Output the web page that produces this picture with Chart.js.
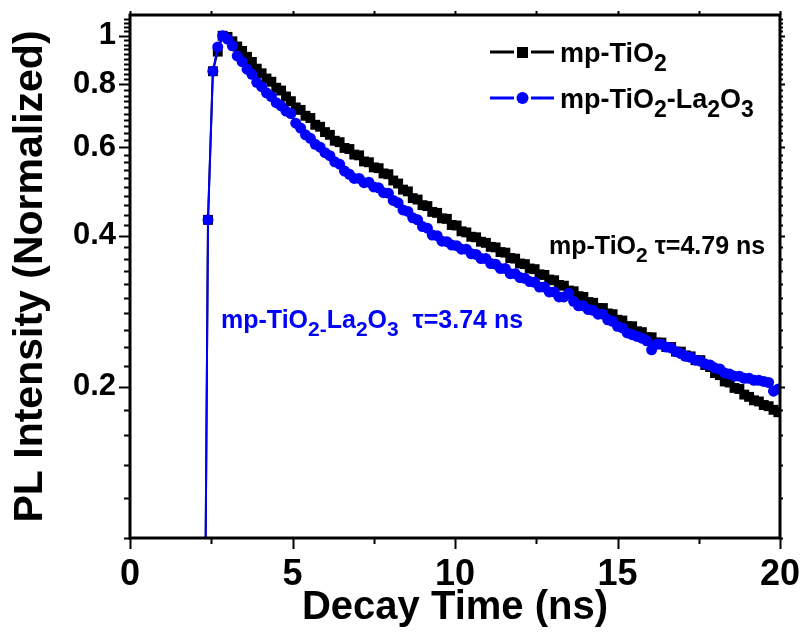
<!DOCTYPE html>
<html><head><meta charset="utf-8">
<script src="https://cdn.jsdelivr.net/npm/chart.js@4.4.0/dist/chart.umd.min.js"></script>
<style>html,body{margin:0;padding:0;background:#fff;}#wrap{width:801px;height:636px;}</style>
</head><body><div id="wrap"><canvas id="c" width="801" height="636"></canvas></div>
<script>
const decayTime = [2.25,2.4,2.55,2.7,2.85,3,3.15,3.3,3.45,3.6,3.75,3.9,4.05,4.2,4.35,4.5,4.65,4.8,4.95,5.1,5.25,5.4,5.55,5.7,5.85,6,6.15,6.3,6.45,6.6,6.75,6.9,7.05,7.2,7.35,7.5,7.65,7.8,7.95,8.1,8.25,8.4,8.55,8.7,8.85,9,9.15,9.3,9.45,9.6,9.75,9.9,10.05,10.2,10.35,10.5,10.65,10.8,10.95,11.1,11.25,11.4,11.55,11.7,11.85,12,12.15,12.3,12.45,12.6,12.75,12.9,13.05,13.2,13.35,13.5,13.65,13.8,13.95,14.1,14.25,14.4,14.55,14.7,14.85,15,15.15,15.3,15.45,15.6,15.75,15.9,16.05,16.2,16.35,16.5,16.65,16.8,16.95,17.1,17.25,17.4,17.55,17.7,17.85,18,18.15,18.3,18.45,18.6,18.75,18.9,19.05,19.2,19.35,19.5,19.65,19.8,19.95];
const mpTiO2 = [0.02,0.43,0.85,0.93,1.0,0.995,0.975,0.952,0.933,0.908,
0.887,0.86,0.842,0.822,0.81,0.788,0.778,0.757,0.741,0.72,
0.712,0.693,0.686,0.665,0.659,0.643,0.635,0.618,0.614,0.598,
0.595,0.58,0.578,0.562,0.56,0.547,0.545,0.532,0.53,0.515,
0.508,0.494,0.49,0.475,0.472,0.46,0.458,0.446,0.444,0.433,
0.432,0.42,0.419,0.408,0.406,0.398,0.397,0.389,0.387,0.38,
0.379,0.371,0.37,0.361,0.36,0.352,0.351,0.344,0.343,0.335,
0.334,0.327,0.326,0.319,0.318,0.311,0.31,0.303,0.302,0.295,
0.294,0.287,0.287,0.28,0.279,0.272,0.271,0.264,0.264,0.258,
0.257,0.251,0.251,0.245,0.245,0.24,0.24,0.235,0.235,0.231,
0.23,0.226,0.226,0.221,0.219,0.213,0.211,0.205,0.204,0.199,
0.198,0.193,0.191,0.188,0.187,0.184,0.183,0.18,0.178];
const mpTiO2La2O3 = [0.02,0.43,0.85,0.95,1.0,0.985,0.955,0.912,0.888,0.858,
0.838,0.808,0.792,0.77,0.757,0.736,0.725,0.708,0.7,0.67,
0.655,0.635,0.625,0.608,0.6,0.585,0.577,0.561,0.555,0.538,
0.53,0.52,0.52,0.51,0.511,0.5,0.498,0.487,0.486,0.47,
0.465,0.45,0.447,0.434,0.43,0.417,0.414,0.401,0.4,0.39,
0.389,0.383,0.382,0.376,0.376,0.368,0.367,0.36,0.36,0.352,
0.351,0.344,0.344,0.336,0.336,0.33,0.329,0.324,0.323,0.316,
0.316,0.309,0.309,0.302,0.302,0.307,0.296,0.29,0.29,0.285,
0.284,0.279,0.279,0.272,0.27,0.264,0.262,0.256,0.254,0.252,
0.25,0.247,0.237,0.243,0.243,0.24,0.239,0.235,0.233,0.23,
0.229,0.226,0.225,0.222,0.221,0.218,0.217,0.213,0.212,0.21,
0.21,0.208,0.208,0.206,0.206,0.205,0.204,0.196,0.198];
const xMajorTicks = [0,5,10,15,20];
const xMinorTicks = [2.5,7.5,12.5,17.5];
const yMajorTicks = [0.2,0.4,0.6,0.8,1];
const yTickLabels = ['0.2','0.4','0.6','0.8','1'];
const yMinorTicks = [0.1,0.12,0.14,0.16,0.18,0.22,0.24,0.26,0.28,0.3,0.32,0.34,0.36,0.38,0.42,0.44,0.46,0.48,0.5,0.52,0.54,0.56,0.58,0.62,0.64,0.66,0.68,0.7,0.72,0.74,0.76,0.78,0.82,0.84,0.86,0.88,0.9,0.92,0.94,0.96,0.98,1.02,1.04,1.06,1.08];

const FONT = "'Liberation Sans', Arial, sans-serif";
const BLUE = '#0000ff';

function rich(ctx, parts, x, y, size, color) {
  let cx = x;
  ctx.textBaseline = 'alphabetic';
  ctx.textAlign = 'left';
  ctx.fillStyle = color;
  for (const p of parts) {
    const fs = p.sub ? Math.round(size * 0.85) : size;
    ctx.font = 'bold ' + fs + 'px ' + FONT;
    ctx.fillText(p.t, cx, y + (p.sub ? size * 0.33 : 0));
    cx += ctx.measureText(p.t).width;
  }
}

const decor = {
  id: 'decor',
  afterDraw(chart) {
    const ctx = chart.ctx, ca = chart.chartArea;
    const xs = chart.scales.x, ys = chart.scales.y;
    ctx.save();
    ctx.strokeStyle = '#000';
    ctx.lineWidth = 2;
    ctx.beginPath();
    for (const v of yMajorTicks) {
      const p = Math.round(ys.getPixelForValue(v)) + 0.5;
      ctx.moveTo(ca.left, p); ctx.lineTo(ca.left - 11, p);
      ctx.moveTo(ca.right, p); ctx.lineTo(ca.right + 5, p);
    }
    for (const v of yMinorTicks) {
      const p = Math.round(ys.getPixelForValue(v)) + 0.5;
      ctx.moveTo(ca.left, p); ctx.lineTo(ca.left - 6, p);
      ctx.moveTo(ca.right, p); ctx.lineTo(ca.right + 3, p);
    }
    for (const v of xMajorTicks) {
      const p = Math.round(xs.getPixelForValue(v)) + 0.5;
      ctx.moveTo(p, ca.bottom); ctx.lineTo(p, ca.bottom + 11);
      ctx.moveTo(p, ca.top); ctx.lineTo(p, ca.top - 4);
    }
    for (const v of xMinorTicks) {
      const p = Math.round(xs.getPixelForValue(v)) + 0.5;
      ctx.moveTo(p, ca.bottom); ctx.lineTo(p, ca.bottom + 6);
      ctx.moveTo(p, ca.top); ctx.lineTo(p, ca.top - 4);
    }
    ctx.stroke();
    ctx.lineWidth = 3;
    ctx.strokeRect(ca.left, ca.top, ca.right - ca.left, ca.bottom - ca.top);

    // legend
    ctx.lineWidth = 3;
    ctx.strokeStyle = '#000';
    ctx.beginPath();
    ctx.moveTo(490, 52); ctx.lineTo(514, 52);
    ctx.moveTo(531, 52); ctx.lineTo(554, 52);
    ctx.stroke();
    ctx.fillStyle = '#000';
    ctx.fillRect(517, 47, 11, 11);
    ctx.strokeStyle = BLUE;
    ctx.beginPath();
    ctx.moveTo(490, 98); ctx.lineTo(514, 98);
    ctx.moveTo(531, 98); ctx.lineTo(554, 98);
    ctx.stroke();
    ctx.fillStyle = BLUE;
    ctx.beginPath(); ctx.arc(522.5, 98, 6, 0, Math.PI * 2); ctx.fill();
    rich(ctx, [{t:'mp-TiO'},{t:'2',sub:true}], 560, 62, 27, '#000');
    rich(ctx, [{t:'mp-TiO'},{t:'2',sub:true},{t:'-La'},{t:'2',sub:true},{t:'O'},{t:'3',sub:true}], 560, 108, 27, '#000');

    // annotations
    rich(ctx, [{t:'mp-TiO'},{t:'2',sub:true},{t:' \u03c4=4.79 ns'}], 549, 254, 25, '#000');
    rich(ctx, [{t:'mp-TiO'},{t:'2',sub:true},{t:'-',sub:true},{t:'La'},{t:'2',sub:true},{t:'O'},{t:'3',sub:true},{t:'  \u03c4=3.74 ns'}], 221, 328, 25, BLUE);
    ctx.restore();
  }
};

new Chart(document.getElementById('c'), {
  type: 'line',
  data: {
    datasets: [
      {
        label: 'mp-TiO2-La2O3',
        data: decayTime.map((t, i) => ({x: t, y: mpTiO2La2O3[i]})),
        borderColor: BLUE, backgroundColor: BLUE,
        pointBackgroundColor: BLUE, pointBorderColor: BLUE,
        pointStyle: 'circle', pointRadius: 5.5, pointBorderWidth: 0,
        borderWidth: 2, tension: 0, order: 0
      },
      {
        label: 'mp-TiO2',
        data: decayTime.map((t, i) => ({x: t, y: mpTiO2[i]})),
        borderColor: '#000', backgroundColor: '#000',
        pointBackgroundColor: '#000', pointBorderColor: '#000',
        pointStyle: 'rect', pointRadius: 7, pointBorderWidth: 0,
        borderWidth: 2, tension: 0, order: 1
      }
    ]
  },
  options: {
    responsive: false, animation: false, devicePixelRatio: 1,
    layout: {padding: {left: 0, right: 21, top: 15, bottom: 0}},
    plugins: {legend: {display: false}, tooltip: {enabled: false}},
    scales: {
      x: {
        type: 'linear', position: 'bottom', min: 0, max: 20,
        afterFit: s => { s.height = 98; s.paddingLeft = 0; s.paddingRight = 0; },
        afterBuildTicks: s => { s.ticks = xMajorTicks.map(v => ({value: v})); },
        grid: {display: false, drawTicks: false},
        border: {display: false},
        ticks: {color: '#000', font: {family: FONT, weight: 'bold', size: 36}, padding: 15, maxRotation: 0, autoSkip: false},
        title: {display: true, text: 'Decay Time (ns)', color: '#000', font: {family: FONT, weight: 'bold', size: 40}, padding: {top: 0, bottom: 4}}
      },
      y: {
        type: 'logarithmic', position: 'left', min: 0.1, max: 1.1,
        afterFit: s => { s.width = 130; s.paddingTop = 0; s.paddingBottom = 0; },
        afterBuildTicks: s => { s.ticks = yMajorTicks.map(v => ({value: v})); },
        grid: {display: false, drawTicks: false},
        border: {display: false},
        ticks: {color: '#000', font: {family: FONT, weight: 'bold', size: 31}, padding: 14, autoSkip: false,
          callback: v => { const i = yMajorTicks.indexOf(v); return i >= 0 ? yTickLabels[i] : ''; }},
        title: {display: true, text: 'PL Intensity (Normalized)', color: '#000', font: {family: FONT, weight: 'bold', size: 41}, padding: {top: 6, bottom: 0}}
      }
    }
  },
  plugins: [decor]
});
</script></body></html>
